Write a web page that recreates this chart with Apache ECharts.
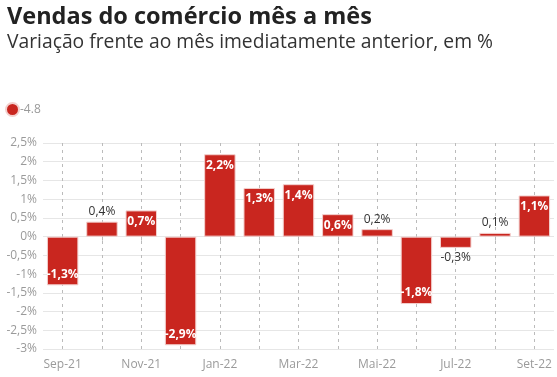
<!DOCTYPE html>
<html>
<head>
<meta charset="utf-8">
<script src="https://cdn.jsdelivr.net/npm/echarts@6/dist/echarts.min.js"></script>
<style>
  html, body { margin: 0; padding: 0; background: #fff; }
  #chart { width: 557px; height: 377px; }
</style>
</head>
<body>
<div id="chart"></div>
<script>
// dados: variação mensal das vendas do comércio (%)
var meses = ['Sep-21', 'Out-21', 'Nov-21', 'Dez-21', 'Jan-22', 'Fev-22', 'Mar-22',
             'Abr-22', 'Mai-22', 'Jun-22', 'Jul-22', 'Ago-22', 'Set-22'];
var variacao = [-1.3, 0.4, 0.7, -2.9, 2.2, 1.3, 1.4, 0.6, 0.2, -1.8, -0.3, 0.1, 1.1];
var nomeSerie = '-4.8';

var vermelho = '#c9261f';
var cinza = '#9a9a9a';

function fmt(v) {
    return String(v).replace('.', ',') + '%';
}

// barras pequenas levam o rótulo por fora
var dados = variacao.map(function (v) {
    var pequeno = Math.abs(v) < 0.5;
    return {
        value: v,
        label: {
            position: pequeno ? (v >= 0 ? 'top' : 'bottom') : (v >= 0 ? 'insideTop' : 'insideBottom'),
            color: pequeno ? '#333' : '#fff',
            fontWeight: pequeno ? 'normal' : 'bold',
            distance: pequeno ? 4 : 5
        }
    };
});

var chart = echarts.init(document.getElementById('chart'));

chart.setOption({
    animation: false,
    textStyle: { fontFamily: 'Open Sans' },
    title: {
        text: 'Vendas do comércio mês a mês',
        subtext: 'Variação frente ao mês imediatamente anterior, em %',
        left: 2,
        top: 0,
        itemGap: 4,
        textStyle: { fontSize: 23.5, fontWeight: 'bold', color: '#222', fontFamily: 'Open Sans' },
        subtextStyle: { fontSize: 19.3, color: '#333', fontFamily: 'Open Sans' }
    },
    legend: {
        left: 5,
        top: 102,
        padding: 0,
        icon: 'circle',
        itemWidth: 13,
        itemHeight: 13,
        itemGap: 2,
        textStyle: { color: cinza, fontSize: 12, padding: [0, 0, 0, -4] },
        data: [nomeSerie]
    },
    grid: { left: 43, right: 3, top: 143, bottom: 28 },
    xAxis: {
        type: 'category',
        data: meses,
        axisLine: { show: false },
        axisTick: { show: true, interval: 0, alignWithLabel: true, length: 6, lineStyle: { color: '#bbb', type: 'dashed' } },
        axisLabel: { interval: 1, color: cinza, fontSize: 12, margin: 10 },
        splitLine: { show: true, interval: 0, alignWithLabel: true, lineStyle: { color: '#bbb', type: [3, 4] } }
    },
    yAxis: {
        type: 'value',
        min: -3,
        max: 2.5,
        interval: 0.5,
        axisLine: { show: false },
        axisTick: { show: false },
        axisLabel: {
            color: cinza,
            fontSize: 12,
            margin: 6,
            formatter: function (v) { return fmt(v); }
        },
        splitLine: { lineStyle: { color: '#e6e6e6' } }
    },
    series: [{
        name: nomeSerie,
        type: 'bar',
        data: dados,
        barWidth: '80%',
        itemStyle: { color: vermelho, borderColor: '#f3d0ce', borderWidth: 1 },
        label: {
            show: true,
            fontSize: 12,
            formatter: function (p) { return fmt(p.value); }
        }
    }]
});
</script>
</body>
</html>
